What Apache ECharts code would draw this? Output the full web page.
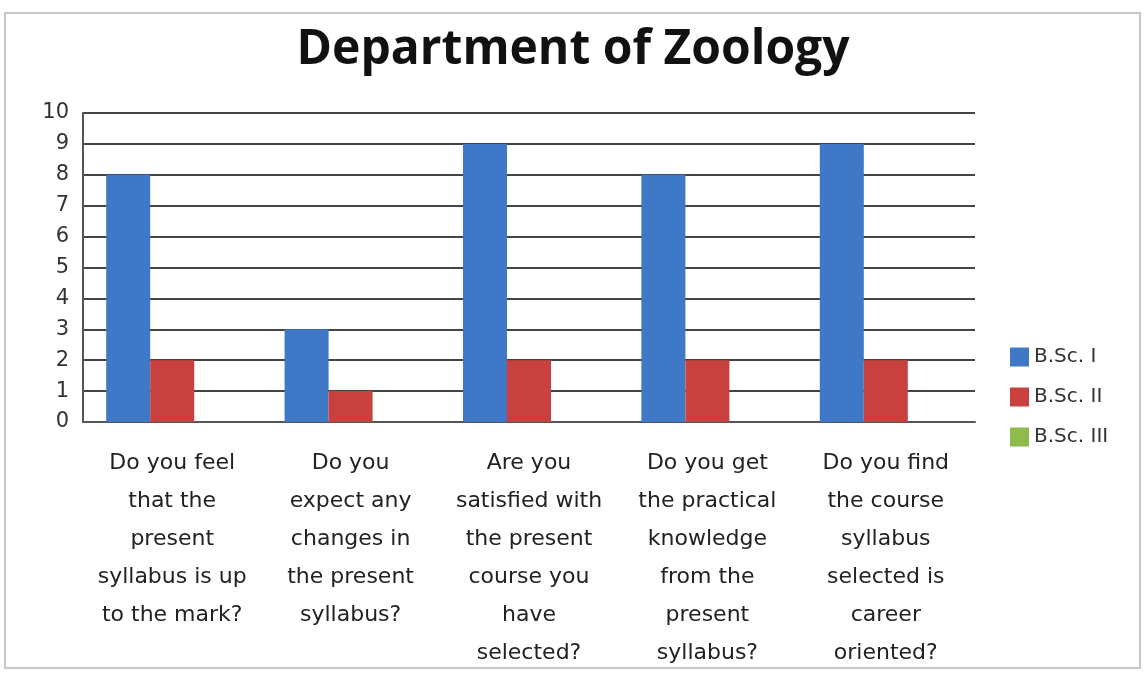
<!DOCTYPE html>
<html>
<head>
<meta charset="utf-8">
<script src="https://cdn.jsdelivr.net/npm/echarts@6/dist/echarts.min.js"></script>
<style>
html,body{margin:0;padding:0;background:#fff;}
#chart{width:1146px;height:696px;}
</style>
</head>
<body>
<div id="chart"></div>
<script>
const categories = [
  "Do you feel\nthat the\npresent\nsyllabus is up\nto the mark?",
  "Do you\nexpect any\nchanges in\nthe present\nsyllabus?",
  "Are you\nsatisfied with\nthe present\ncourse you\nhave\nselected?",
  "Do you get\nthe practical\nknowledge\nfrom the\npresent\nsyllabus?",
  "Do you find\nthe course\nsyllabus\nselected is\ncareer\noriented?"
];
const seriesNames = ["B.Sc. I", "B.Sc. II", "B.Sc. III"];
const bsc1 = [8, 3, 9, 8, 9];
const bsc2 = [2, 1, 2, 2, 2];
const bsc3 = [0, 0, 0, 0, 0];
const colors = ["#3f78c6", "#c9413f", "#8dbb4c"];

const chart = echarts.init(document.getElementById('chart'));
const font = "'Open Sans', 'DejaVu Sans', sans-serif";
const wideFont = "'DejaVu Sans', 'Open Sans', sans-serif";
chart.setOption({
  animation: false,
  backgroundColor: '#ffffff',
  color: colors,
  graphic: [{
    type: 'rect',
    shape: {x: 5, y: 13, width: 1135, height: 655},
    style: {fill: 'none', stroke: '#c8c8c8', lineWidth: 2},
    z: -1
  }],
  title: {
    text: 'Department of Zoology',
    left: 'center',
    top: 21,
    textStyle: {fontFamily: font, fontSize: 48, fontWeight: 'bold', color: '#111'}
  },
  legend: {
    orient: 'vertical',
    left: 1005,
    top: 342,
    itemWidth: 19,
    itemHeight: 19,
    itemGap: 20,
    icon: 'rect',
    data: seriesNames,
    textStyle: {fontFamily: wideFont, fontSize: 20, color: '#333'}
  },
  grid: {left: 83, right: 171, top: 113, bottom: 274, containLabel: false},
  xAxis: {
    type: 'category',
    data: categories,
    axisLine: {show: true, lineStyle: {color: '#555', width: 2}},
    axisTick: {show: false},
    axisLabel: {interval: 0, fontFamily: wideFont, fontSize: 22, lineHeight: 38, margin: 22, color: '#222'}
  },
  yAxis: {
    type: 'value',
    min: 0, max: 10, interval: 1,
    axisLine: {show: true, lineStyle: {color: '#555', width: 2}},
    axisTick: {show: false},
    axisLabel: {fontFamily: wideFont, fontSize: 21, color: '#333', margin: 14},
    splitLine: {show: true, lineStyle: {color: '#444', width: 2}}
  },
  series: [
    {name: seriesNames[0], type: 'bar', data: bsc1, barGap: '0%', barCategoryGap: '26%'},
    {name: seriesNames[1], type: 'bar', data: bsc2, barGap: '0%', barCategoryGap: '26%'},
    {name: seriesNames[2], type: 'bar', data: bsc3, barGap: '0%', barCategoryGap: '26%'}
  ]
});
</script>
</body>
</html>
